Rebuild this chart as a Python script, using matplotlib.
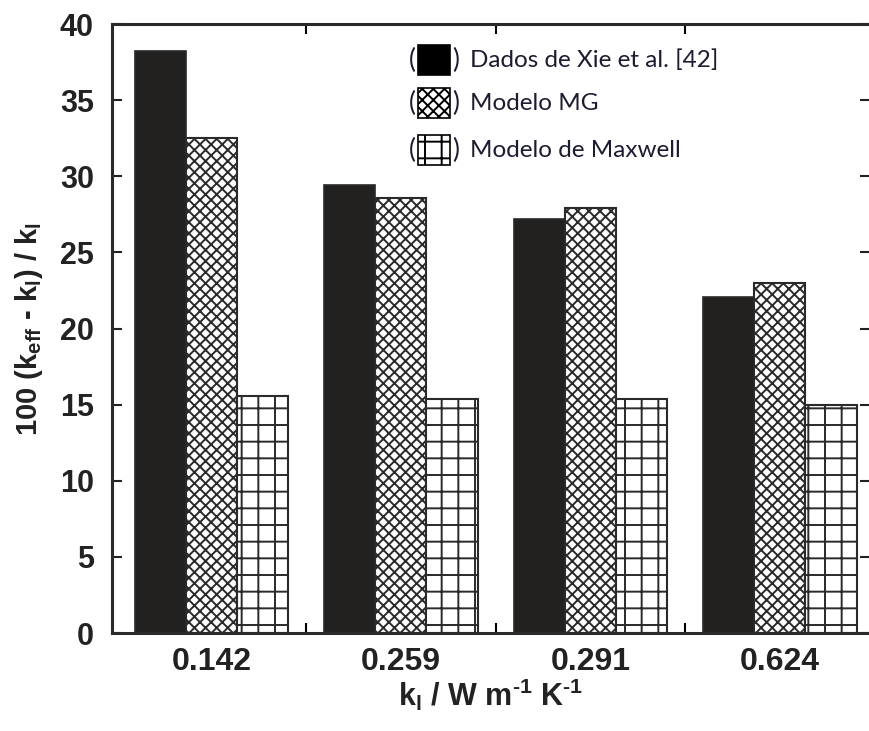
import matplotlib
matplotlib.use("Agg")
import matplotlib.pyplot as plt
from matplotlib.patches import Rectangle
import numpy as np

# thermal conductivity of the base fluid (x categories)
kLabels = ["0.142", "0.259", "0.291", "0.624"]

# 100 (k_eff - k_l) / k_l for each series
xieData = [38.2, 29.4, 27.2, 22.1]
mgModel = [32.5, 28.6, 27.9, 23.0]
maxwellModel = [15.6, 15.4, 15.4, 15.0]

seriesNames = ["Dados de Xie et al. [42]", "Modelo MG", "Modelo de Maxwell"]


def main():
    plt.rcParams["font.family"] = ["Liberation Sans", "DejaVu Sans"]
    plt.rcParams["mathtext.fontset"] = "custom"
    plt.rcParams["mathtext.rm"] = "Liberation Sans:bold"
    plt.rcParams["mathtext.bf"] = "Liberation Sans:bold"
    plt.rcParams["mathtext.it"] = "Liberation Sans:bold"
    plt.rcParams["hatch.linewidth"] = 1.4
    plt.rcParams["hatch.color"] = "#1a1a1a"

    fig = plt.figure(figsize=(8.69, 7.31), dpi=100)
    ax = fig.add_axes([0.1289, 0.134, 0.8723, 0.8331])

    x = np.arange(len(kLabels))
    width = 0.27
    edge = "#2a2a2a"

    ax.bar(x - width, xieData, width, color="#222120", edgecolor=edge, linewidth=1.2)
    ax.bar(x, mgModel, width, color="white", edgecolor=edge, linewidth=1.5, hatch="xxx")
    ax.bar(x + width, maxwellModel, width, color="white", edgecolor=edge, linewidth=1.5, hatch="+")

    ax.set_xlim(-0.524, 3.476)
    ax.set_ylim(0, 40)

    # category labels at group centres, tick marks between groups
    ax.set_xticks(x)
    ax.set_xticklabels(kLabels, fontsize=23, fontweight="bold")
    ax.set_xticks(x[:-1] + 0.5, minor=True)
    ax.tick_params(axis="x", which="major", length=0, pad=10, colors="#222222")
    ax.tick_params(axis="x", which="minor", direction="in", length=7, width=1.5,
                   top=True, bottom=True)

    ax.set_yticks(np.arange(0, 41, 5))
    ax.set_yticklabels([str(v) for v in range(0, 41, 5)], fontsize=22, fontweight="bold")
    ax.tick_params(axis="y", direction="in", length=7, width=1.5, right=True, pad=13,
                   colors="#222222")

    for spine in ax.spines.values():
        spine.set_linewidth(2.2)
        spine.set_color("#2a2a2a")

    ax.set_ylabel(r"100 (k$_{\rm eff}$ - k$_{\rm l}$) / k$_{\rm l}$", fontsize=21,
                  fontweight="bold", color="#222222")
    ax.yaxis.set_label_coords(-0.088, 0.50)
    ax.set_xlabel(r"k$_{\rm l}$ / W m$^{\text{-}1}$ K$^{\text{-}1}$", fontsize=22,
                  fontweight="bold", color="#222222")
    ax.xaxis.set_label_coords(0.5, -0.072)

    drawLegend(ax)

    fig.savefig("out.png", dpi=100)


def drawLegend(ax):
    # hand-made legend: small sample box wrapped in parentheses, then the label
    hatches = [None, "xxx", "+"]
    faces = ["black", "white", "white"]
    rowY = [0.941, 0.870, 0.793]
    boxW = 0.042
    boxH = 0.049
    textColor = "#1c1c30"
    for name, hatch, face, yc in zip(seriesNames, hatches, faces, rowY):
        box = Rectangle((0.404, yc - boxH / 2), boxW, boxH, transform=ax.transAxes,
                        facecolor=face, edgecolor="black", linewidth=1.2, hatch=hatch)
        ax.add_patch(box)
        ax.text(0.396, yc, "(", transform=ax.transAxes, fontsize=19, family="Lato",
                ha="center", va="center", color=textColor)
        ax.text(0.453, yc, ")", transform=ax.transAxes, fontsize=19, family="Lato",
                ha="center", va="center", color=textColor)
        ax.text(0.472, yc, name, transform=ax.transAxes, fontsize=17.5, family="Lato",
                ha="left", va="center", color=textColor)


if __name__ == "__main__":
    main()
